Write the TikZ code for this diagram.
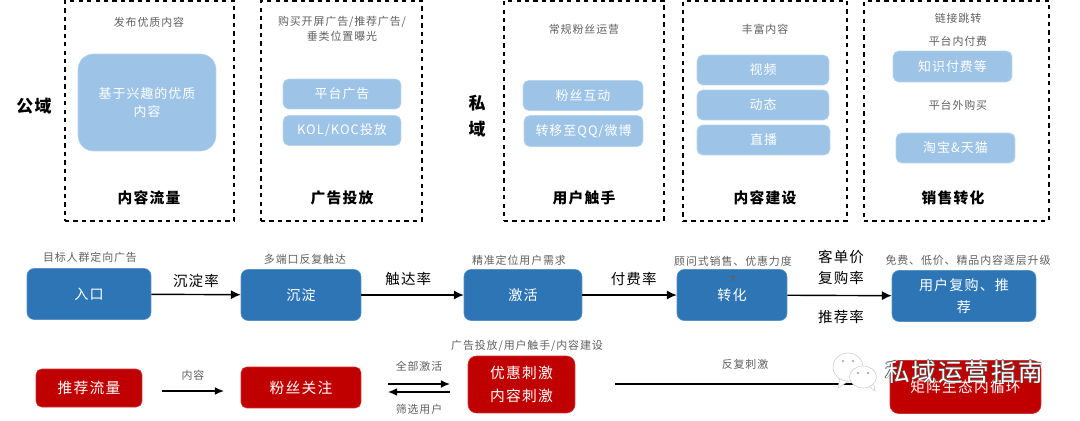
\documentclass[tikz,border=0pt]{standalone}
\usepackage{fontspec}
\setmainfont[LetterSpace=8]{Noto Sans CJK SC}
\usepackage{xcolor}
\usetikzlibrary{positioning, arrows.meta}
\definecolor{paleblue}{RGB}{157,195,230}
\definecolor{midblue}{RGB}{46,117,182}
\definecolor{darkred}{RGB}{192,0,0}
\definecolor{notegray}{RGB}{95,95,95}
\tikzset{
  panel/.style={draw, dashed, line width=1pt, inner sep=0pt},
  palebox/.style={fill=paleblue, draw=paleblue!70!white, rounded corners=4pt, text=white, font=\fontsize{9.2}{13}\selectfont, align=center},
  flowbox/.style={fill=midblue, draw=midblue!80!white, rounded corners=5pt, text=white, font=\fontsize{10}{16}\selectfont, align=center},
  redbox/.style={fill=darkred, draw=darkred!80!white, rounded corners=4pt, text=white, font=\fontsize{10.5}{16}\selectfont, align=center},
  note/.style={text=notegray, font=\fontsize{7.8}{10.5}\selectfont, align=center},
  title/.style={font=\fontsize{10.5}{12}\selectfont\bfseries},
  side/.style={font=\fontsize{12}{15}\selectfont\bfseries, align=center},
  rate/.style={font=\fontsize{10.3}{12}\selectfont},
  flow/.style={-{Latex[length=7pt,width=6.5pt]}, line width=1pt},
  thinflow/.style={-{Latex[length=6.5pt,width=5.5pt]}, line width=0.9pt},
  mark text/.style={font=\fontsize{17.5}{20}\selectfont},
  bubble/.style={fill=white, draw=gray!40}
}
\begin{document}
\begin{tikzpicture}[x=0.025cm, y=-0.025cm]
\useasboundingbox (0,0) rectangle (1080,421);
% Panels
\node[panel, minimum width=169*0.711pt, minimum height=220*0.711pt] (panelA) at (149.5,111) {};
\node[panel, minimum width=161*0.711pt, minimum height=220*0.711pt] (panelB) at (341.5,111) {};
\node[panel, minimum width=160*0.711pt, minimum height=220*0.711pt] (panelC) at (584,111) {};
\node[panel, minimum width=164*0.711pt, minimum height=220*0.711pt] (panelD) at (765,111) {};
\node[panel, minimum width=185*0.711pt, minimum height=220*0.711pt] (panelE) at (956.5,111) {};
% Side labels
\node[side] (pub) at (34,106) {公域};
\node[side] (priv) at (477,116) {私\\[3pt]域};
% Panel notes
\node[note] (noteA) at (149,22) {发布优质内容};
\node[note] (noteB) at (342,29) {购买开屏广告/推荐广告/\\垂类位置曝光};
\node[note] (noteC) at (584,29) {常规粉丝运营};
\node[note] (noteD) at (765,29) {丰富内容};
\node[note] (noteE) at (958,18) {链接跳转};
\node[note] (noteF) at (958,41) {平台内付费};
\node[note] (noteG) at (958,105) {平台外购买};
% Pale boxes
\node[palebox, rounded corners=11pt, minimum width=138*0.711pt, minimum height=97*0.711pt] (interest) at (147,102.5) {基于兴趣的优质\\内容};
\node[palebox, minimum width=118*0.711pt, minimum height=30*0.711pt] (adplat) at (342,94) {平台广告};
\node[palebox, minimum width=118*0.711pt, minimum height=30*0.711pt] (adkol) at (342,130.5) {KOL/KOC投放};
\node[palebox, minimum width=120*0.711pt, minimum height=30*0.711pt] (fans) at (583,95.5) {粉丝互动};
\node[palebox, minimum width=119*0.711pt, minimum height=31*0.711pt] (move) at (583.5,131) {转移至QQ/微博};
\node[palebox, minimum width=132*0.711pt, minimum height=30*0.711pt] (video) at (763,70) {视频};
\node[palebox, minimum width=132*0.711pt, minimum height=30*0.711pt] (dyn) at (763,105) {动态};
\node[palebox, minimum width=133*0.711pt, minimum height=30*0.711pt] (live) at (763.5,140) {直播};
\node[palebox, minimum width=119*0.711pt, minimum height=31*0.711pt] (know) at (952.5,66.5) {知识付费等};
\node[palebox, minimum width=119*0.711pt, minimum height=30*0.711pt] (taobao) at (955.5,148) {淘宝\&天猫};
% Panel titles
\node[title] (titleA) at (149,198) {内容流量};
\node[title] (titleB) at (342,198) {广告投放};
\node[title] (titleC) at (584,198) {用户触手};
\node[title] (titleD) at (765,198) {内容建设};
\node[title] (titleE) at (953,198) {销售转化};
% Funnel row
\node[flowbox, minimum width=124*0.711pt, minimum height=51*0.711pt] (entry) at (89,294) {入口};
\node[flowbox, minimum width=120*0.711pt, minimum height=51*0.711pt] (settle) at (301,295) {沉淀};
\node[flowbox, minimum width=118*0.711pt, minimum height=51*0.711pt] (activate) at (523,295) {激活};
\node[flowbox, minimum width=110*0.711pt, minimum height=51*0.711pt] (convert) at (732,295) {转化};
\node[flowbox, text width=128*0.711pt, minimum width=144*0.711pt, minimum height=51*0.711pt] (rebuy) at (964,296) {用户复购、推\\荐};
\draw[flow] (entry) -- (settle) node[rate, midway, above=1pt] (rateA) {沉淀率};
\draw[flow] (settle) -- (activate) node[rate, midway, above=3pt, xshift=-3pt] (rateB) {触达率};
\draw[flow] (activate) -- (convert) node[rate, midway, above=3pt, xshift=3pt] (rateC) {付费率};
\draw[flow] (convert) -- (rebuy);
\node[rate] (rateD) at (841,257) {客单价};
\node[rate] (rateE) at (841,278) {复购率};
\node[rate] (rateF) at (841,317) {推荐率};
% Funnel notes
\node[note] (noteH) at (90,257) {目标人群定向广告};
\node[note] (noteI) at (305,259) {多端口反复触达};
\node[note] (noteJ) at (519,260) {精准定位用户需求};
\node[note] (noteK) at (733,261) {顾问式销售、优惠力度};
\node[note, font=\fontsize{6}{8}\selectfont, below=-1pt of noteK] (noteK2) {大};
\node[note] (noteL) at (968,260) {免费、低价、精品内容逐层升级};
% Red row
\node[redbox, minimum width=106*0.711pt, minimum height=38*0.711pt] (rec) at (89,388) {推荐流量};
\node[redbox, minimum width=120*0.711pt, minimum height=41*0.711pt] (follow) at (301,387.5) {粉丝关注};
\node[redbox, rounded corners=6pt, minimum width=107*0.711pt, minimum height=57*0.711pt] (promo) at (521.5,384.5) {优惠刺激\\内容刺激};
\node[redbox, rounded corners=6pt, minimum width=151*0.711pt, minimum height=53*0.711pt] (matrix) at (965.5,387) {矩阵生态内循环};
\coordinate (recout) at (162,391);
\coordinate (followin) at (224,391);
\coordinate (actin) at (450,384);
\coordinate (actout) at (388,384);
\coordinate (pickin) at (388,392);
\coordinate (pickout) at (450,392);
\coordinate (loopout) at (615,384);
\coordinate (loopend) at (862,384);
\draw[thinflow] (recout) -- (followin) node[note, midway, above=4pt] (noteM) {内容};
\draw[thinflow] (actout) -- (actin) node[note, midway, above=5pt] (noteN) {全部激活};
\draw[thinflow] (pickout) -- (pickin) node[note, midway, below=5pt] (noteO) {筛选用户};
\draw[line width=0.9pt] (loopout) -- (loopend);
\node[note] (noteP) at (745,364) {反复刺激};
\node[note] (noteQ) at (527,346) {广告投放/用户触手/内容建设};
% Watermark
\draw[bubble] (840,378) -- (838,388) -- (850,380) -- cycle;
\draw[bubble] (848,367) ellipse (15 and 14);
\draw[bubble] (866,384) -- (875,391) -- (873,380) -- cycle;
\draw[bubble] (863,377) ellipse (13.5 and 11);
\fill[gray!60] (843,361) circle (1.3) (853,361) circle (1.3) (858,373) circle (1.3) (868,373) circle (1.3);
\foreach \dx/\dy in {-0.6/0, 0.6/0, 0/-0.6, 0/0.6}
  \node[mark text, text=black!65] (wmline\dx\dy) at (964+\dx,372+\dy) {私域运营指南};
\node[mark text, text=white] (wm) at (964,372) {私域运营指南};
\end{tikzpicture}
\end{document}
